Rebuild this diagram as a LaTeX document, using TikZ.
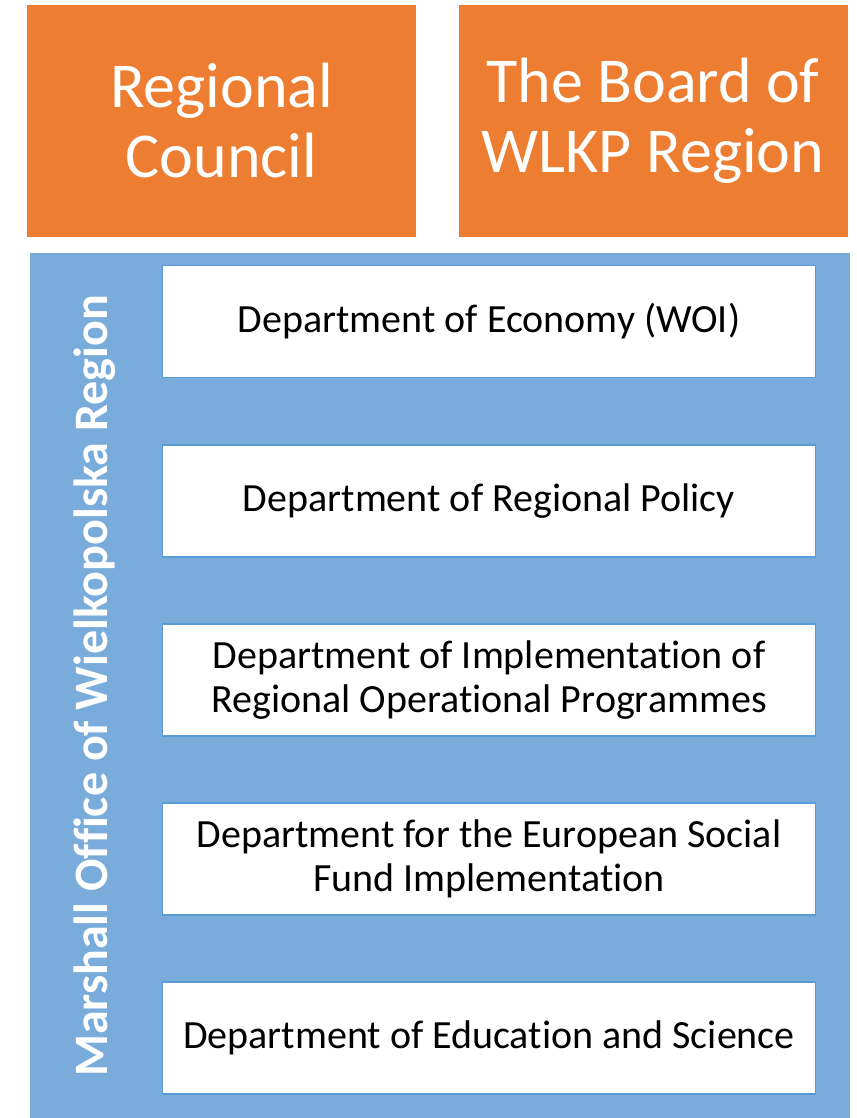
\documentclass[tikz,border=0pt]{standalone}
\usepackage{fontspec}
\setmainfont[Ligatures=NoCommon]{Carlito}
\usetikzlibrary{positioning}

\definecolor{boardorange}{RGB}{237,125,49}
\definecolor{officeblue}{RGB}{122,172,219}
\definecolor{deptline}{RGB}{91,155,213}

\tikzset{
    orangebox/.style={fill=boardorange, draw=none, text=white, align=center,
        minimum width=389pt, minimum height=232pt, inner sep=0pt,
        font=\fontsize{64}{70}\selectfont},
    deptbox/.style={fill=white, draw=deptline, line width=1.5pt, align=center,
        minimum width=653pt, minimum height=112pt, inner sep=0pt,
        font=\fontsize{40}{44}\selectfont}
}

\begin{document}
\begin{tikzpicture}[x=1pt,y=-1pt]
        \useasboundingbox (0,0) rectangle (856,1118);

        % Top boxes
        \node[orangebox] (council) at (221.5,121) {Regional\\Council};
        \node[orangebox] (board) at (653,121) {The Board of\\WLKP Region};

        % Marshall office
        \node[fill=officeblue, minimum width=820pt, minimum height=865pt, inner sep=0pt] (office) at (440,685.5) {};
        \node[rotate=90, text=white, font=\fontsize{48}{56}\selectfont\bfseries] (officelabel) at (95,686) {Marshall Office of Wielkopolska Region};

        % Departments
        \node[deptbox] (economy) at (489,321.5) {Department of Economy (WOI)};
        \node[deptbox] (policy) at (489,501) {Department of Regional Policy};
        \node[deptbox] (rop) at (489,680) {Department of Implementation of\\Regional Operational Programmes};
        \node[deptbox] (esf) at (489,859) {Department for the European Social\\Fund Implementation};
        \node[deptbox] (science) at (489,1038) {Department of Education and Science};
    \end{tikzpicture}
\end{document}
